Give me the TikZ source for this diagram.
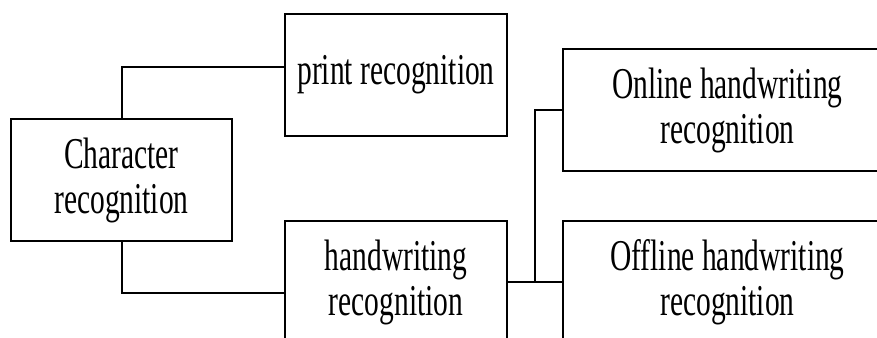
\documentclass[tikz,border=0pt]{standalone}
\usepackage{fontspec}
\setmainfont[FakeStretch=0.67]{Liberation Serif}
\begin{document}
\begin{tikzpicture}[x=1pt,y=-1pt,
  box/.style={draw=black, line width=2.8pt, rectangle, align=center,
    minimum height=122pt, inner sep=0pt,
    font=\fontsize{44}{45}\selectfont},
  link/.style={draw=black, line width=2.6pt}]
  \clip (0,0) rectangle (877,337);
  \useasboundingbox (0,0) rectangle (877,337);
  % tree of boxes
  \node[box, minimum width=221pt] (char) at (121.5,180) {Character\\recognition};
  \node[box, minimum width=222pt] (print) at (396,75) {print recognition};
  \node[box, minimum width=222pt] (hand) at (396,282) {handwriting\\recognition};
  \node[box, minimum width=329pt] (online) at (727.5,110) {Online handwriting\\recognition};
  \node[box, minimum width=329pt] (offline) at (727.5,282) {Offline handwriting\\recognition};
  % connectors
  \draw[link] ([xshift=0.5pt]char.north) |- ([yshift=8pt]print.west);
  \draw[link] ([xshift=0.5pt]char.south) |- ([yshift=-11pt]hand.west);
  \draw[link] (hand.east) -- (offline.west);
  \coordinate (split) at (535,282);
  \draw[link] (split) |- (online.west);
\end{tikzpicture}
\end{document}
